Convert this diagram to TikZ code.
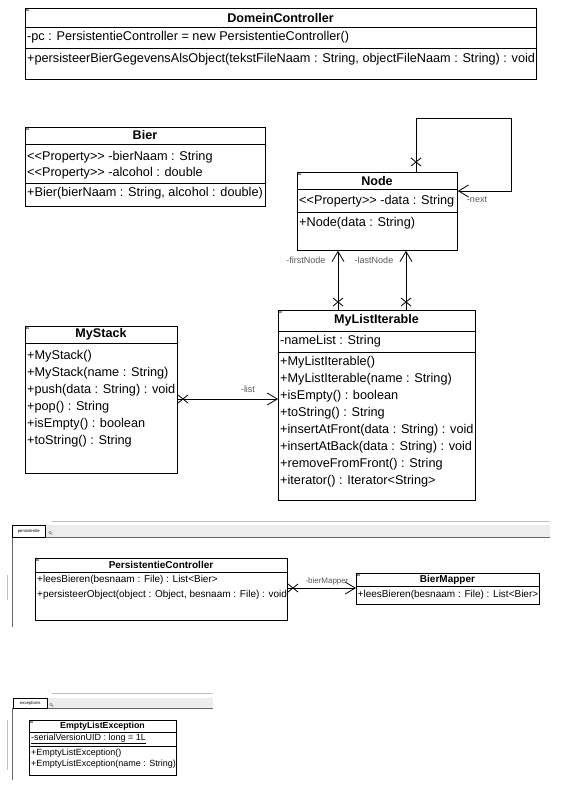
\documentclass[tikz,border=0pt]{standalone}
\usepackage{fontspec}
\setmainfont{Liberation Sans}
\usetikzlibrary{arrows.meta}
\newcommand\crossat[2]{\draw[sepline] (#1-5,#2-4) -- (#1+5,#2+4) (#1-5,#2+4) -- (#1+5,#2-4);}
\begin{document}
\begin{tikzpicture}[x=1pt,y=-1pt,
  cls/.style={draw, line width=0.8pt, inner sep=0pt, anchor=north west},
  sepline/.style={line width=0.8pt},
  txt/.style={anchor=west, inner sep=0pt, font=\fontsize{12.7}{14}\selectfont},
  ttl/.style={inner sep=0pt, font=\fontsize{12.6}{14}\selectfont\bfseries},
  stxt/.style={anchor=west, inner sep=0pt, font=\fontsize{10}{11}\selectfont},
  sttl/.style={inner sep=0pt, font=\fontsize{10}{11}\selectfont\bfseries},
  xtxt/.style={anchor=west, inner sep=0pt, font=\fontsize{9}{10}\selectfont},
  xttl/.style={inner sep=0pt, font=\fontsize{8.8}{10}\selectfont\bfseries},
  amark/.style={anchor=north west, inner sep=0.6pt, font=\fontsize{5.5}{5.5}\selectfont},
  nav/.style={line width=0.8pt, -{Straight Barb[length=10pt,width=12pt]}},
  lbl/.style={inner sep=0pt, text=black!65, font=\fontsize{9}{10}\selectfont},
  tabbox/.style={draw, fill=white, line width=0.6pt, inner sep=0pt, anchor=north west, font=\fontsize{4.3}{4.3}\selectfont},
  band/.style={fill=black!7},
  bandline/.style={draw=black!60, line width=0.8pt},
  faint/.style={draw=black!25, line width=0.6pt}
]
\useasboundingbox[fill=white] (0,0) rectangle (561,790);

% ---------- DomeinController ----------
\node[cls, minimum width=511pt, minimum height=71pt] (dc) at (25,8) {};
\draw[sepline] (25,27) -- (536,27) (25,48) -- (536,48);
\node[amark] at (25,8) {a};
\node[ttl] at (280.5,18) {DomeinController};
\node[txt] at (27,37) {-pc : PersistentieController = new PersistentieController()};
\node[txt] at (27,59) {+persisteerBierGegevensAlsObject(tekstFileNaam : String, objectFileNaam : String) : void};

% ---------- Bier ----------
\node[cls, minimum width=240pt, minimum height=79pt] (bier) at (25,127) {};
\draw[sepline] (25,144) -- (265,144) (25,183) -- (265,183);
\node[amark] at (25,127) {a};
\node[ttl] at (145,135) {Bier};
\node[txt] at (27,157) {<{}<Property>{}> -bierNaam : String};
\node[txt] at (27,173) {<{}<Property>{}> -alcohol : double};
\node[txt] at (27,193) {+Bier(bierNaam : String, alcohol : double)};

% ---------- Node ----------
\node[cls, minimum width=160pt, minimum height=78pt] (nd) at (297,172) {};
\draw[sepline] (297,189) -- (457,189) (297,212) -- (457,212);
\node[amark] at (297,172) {a};
\node[ttl] at (377,181) {Node};
\node[txt] at (299,201) {<{}<Property>{}> -data : String};
\node[txt] at (299,223) {+Node(data : String)};

% ---------- MyListIterable ----------
\node[cls, minimum width=197pt, minimum height=190pt] (mli) at (278,310) {};
\draw[sepline] (278,331) -- (475,331) (278,352) -- (475,352);
\node[amark] at (278,310) {a};
\node[ttl] at (376.5,320) {MyListIterable};
\node[txt] at (280,341) {-nameList : String};
\node[txt] at (280,362) {+MyListIterable()};
\node[txt] at (280,379) {+MyListIterable(name : String)};
\node[txt] at (280,396) {+isEmpty() : boolean};
\node[txt] at (280,413) {+toString() : String};
\node[txt] at (280,430) {+insertAtFront(data : String) : void};
\node[txt] at (280,447) {+insertAtBack(data : String) : void};
\node[txt] at (280,464) {+removeFromFront() : String};
\node[txt] at (280,481) {+iterator() : Iterator<String>};

% ---------- MyStack ----------
\node[cls, minimum width=152pt, minimum height=147pt] (ms) at (25,326) {};
\draw[sepline] (25,343) -- (177,343);
\node[amark] at (25,326) {a};
\node[ttl] at (101,334) {MyStack};
\node[txt] at (27,356) {+MyStack()};
\node[txt] at (27,373) {+MyStack(name : String)};
\node[txt] at (27,390) {+push(data : String) : void};
\node[txt] at (27,407) {+pop() : String};
\node[txt] at (27,424) {+isEmpty() : boolean};
\node[txt] at (27,441) {+toString() : String};

% ---------- associations (upper part) ----------
\draw[nav] (nd.north -| 416,0) |- (511,118) |- (nd.east |- 0,191);
\crossat{416}{162}
\node[lbl] (lnext) at (477,200) {-next};

\draw[nav] (mli.north -| 338,0) -- (nd.south -| 338,0);
\crossat{338}{302}
\node[lbl] (lfirst) at (306,260) {-firstNode};

\draw[nav] (mli.north -| 406,0) -- (nd.south -| 406,0);
\crossat{406}{302}
\node[lbl] (llast) at (374,260) {-lastNode};

\draw[nav] (ms.east |- 0,399) -- (mli.west |- 0,399);
\crossat{183}{399}
\node[lbl] (llist) at (248,389) {-list};

% ---------- persistentie panel ----------
\draw[faint] (52,521) -- (550,521);
\fill[band] (45,525) rectangle (550,537);
\draw[bandline] (45,537) -- (550,537);
\draw[bandline] (12,537) -- (12,627);
\draw[faint] (7,575) -- (7,600);
\node[tabbox, minimum width=33pt, minimum height=12pt] (tabp) at (12,525) {persistentie};
\draw[black!55, line width=0.4pt] (50,532.5) circle (1.3) (51,533.5) -- (52.2,534.7);

\node[cls, minimum width=252pt, minimum height=62pt] (pc) at (35,558) {};
\draw[sepline] (35,572) -- (287,572);
\node[amark] at (35,558) {a};
\node[sttl] at (161,565) {PersistentieController};
\node[stxt] at (37,580) {+leesBieren(besnaam : File) : List<Bier>};
\node[stxt] at (37,595) {+persisteerObject(object : Object, besnaam : File) : void};

\node[cls, minimum width=183pt, minimum height=31pt] (bm) at (356,573) {};
\draw[sepline] (356,586) -- (539,586);
\node[amark] at (356,573) {a};
\node[sttl] at (447.5,579.5) {BierMapper};
\node[stxt] at (357.5,595) {+leesBieren(besnaam : File) : List<Bier>};

\draw[nav] (pc.east |- 0,588) -- (bm.west |- 0,588);
\crossat{293}{588}
\node[lbl, font=\fontsize{8}{9}\selectfont] (lbm) at (327,581) {-bierMapper};

% ---------- exceptions panel ----------
\draw[faint] (52,693) -- (213,693);
\fill[band] (47,698) rectangle (213,708);
\draw[bandline] (47,708) -- (213,708);
\draw[bandline] (12,708) -- (12,780);
\draw[faint] (7,720) -- (7,770);
\node[tabbox, minimum width=34pt, minimum height=10pt] (tabe) at (13,698) {exceptions};
\draw[black!55, line width=0.4pt] (51,704.5) circle (1.3) (52,705.5) -- (53.2,706.7);

\node[cls, minimum width=147pt, minimum height=55pt] (ele) at (29,720) {};
\draw[sepline] (29,732) -- (176,732) (29,746) -- (176,746);
\node[amark] at (29,720) {a};
\node[xttl] at (102.5,726) {EmptyListException};
\node[xtxt] at (31,739) {\underline{-serialVersionUID : long = 1L}};
\node[xtxt] at (31,753) {+EmptyListException()};
\node[xtxt] at (31,764) {+EmptyListException(name : String)};
\end{tikzpicture}
\end{document}
